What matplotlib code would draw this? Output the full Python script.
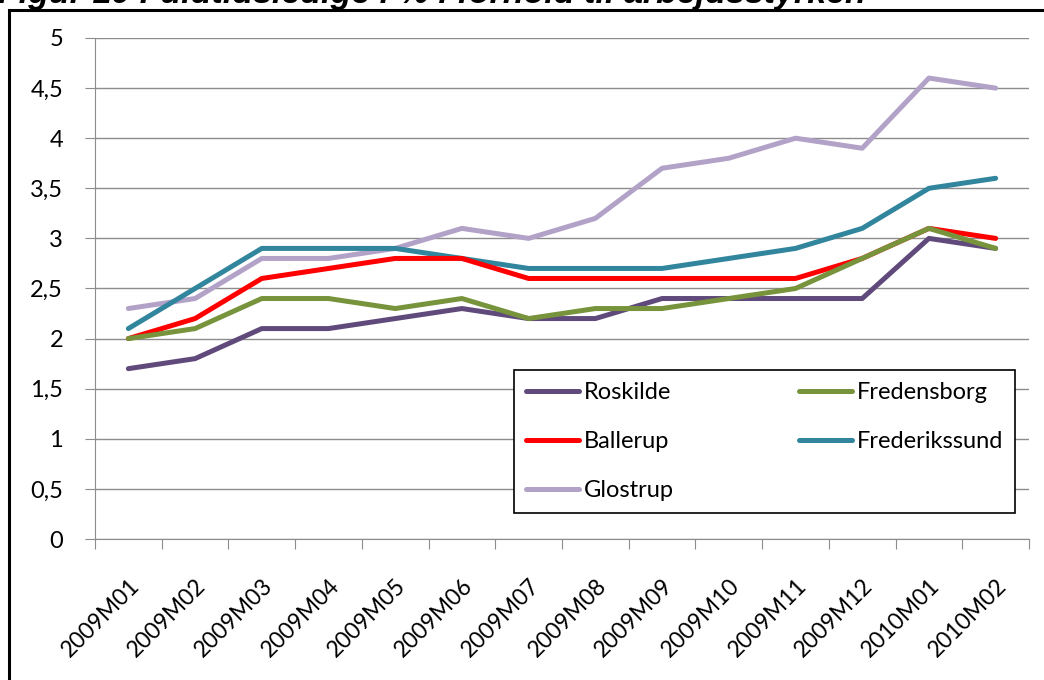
import matplotlib
matplotlib.use("Agg")
import matplotlib.pyplot as plt
from matplotlib.patches import Rectangle

# months on the x axis
months = ["2009M01", "2009M02", "2009M03", "2009M04", "2009M05", "2009M06", "2009M07",
          "2009M08", "2009M09", "2009M10", "2009M11", "2009M12", "2010M01", "2010M02"]

# unemployment share (%) per municipality
roskilde = [1.7, 1.8, 2.1, 2.1, 2.2, 2.3, 2.2, 2.2, 2.4, 2.4, 2.4, 2.4, 3.0, 2.9]
fredensborg = [2.0, 2.1, 2.4, 2.4, 2.3, 2.4, 2.2, 2.3, 2.3, 2.4, 2.5, 2.8, 3.1, 2.9]
ballerup = [2.0, 2.2, 2.6, 2.7, 2.8, 2.8, 2.6, 2.6, 2.6, 2.6, 2.6, 2.8, 3.1, 3.0]
frederikssund = [2.1, 2.5, 2.9, 2.9, 2.9, 2.8, 2.7, 2.7, 2.7, 2.8, 2.9, 3.1, 3.5, 3.6]
glostrup = [2.3, 2.4, 2.8, 2.8, 2.9, 3.1, 3.0, 3.2, 3.7, 3.8, 4.0, 3.9, 4.6, 4.5]

yticks = [0, 0.5, 1, 1.5, 2, 2.5, 3, 3.5, 4, 4.5, 5]
ytick_labels = ["0", "0,5", "1", "1,5", "2", "2,5", "3", "3,5", "4", "4,5", "5"]

W, H = 1044, 680
fig = plt.figure(figsize=(W / 100, H / 100), dpi=100)
ax = fig.add_axes([95 / W, (H - 539) / H, (1029 - 95) / W, (539 - 38) / H])

font = "Lato"
x = range(len(months))
lw = 3.6
l_ros, = ax.plot(x, roskilde, color="#604A7B", lw=lw, label="Roskilde", solid_capstyle="round")
l_fre, = ax.plot(x, fredensborg, color="#77933C", lw=lw, label="Fredensborg", solid_capstyle="round")
l_bal, = ax.plot(x, ballerup, color="#FF0000", lw=lw, label="Ballerup", solid_capstyle="round")
l_fsd, = ax.plot(x, frederikssund, color="#31859C", lw=lw, label="Frederikssund", solid_capstyle="round")
l_glo, = ax.plot(x, glostrup, color="#B3A2C7", lw=lw, label="Glostrup", solid_capstyle="round")
# draw order roughly like the source
l_glo.set_zorder(2)
l_fsd.set_zorder(3)
l_bal.set_zorder(4)
l_ros.set_zorder(4.5)
l_fre.set_zorder(5)

ax.set_xlim(-0.5, len(months) - 0.5)
ax.set_ylim(0, 5)
ax.set_yticks(yticks)
ax.set_yticklabels(ytick_labels, fontfamily=font, fontsize=17)
ax.yaxis.grid(True, color="#8c8c8c", lw=1.0)
ax.set_axisbelow(True)

# category ticks sit between months, labels at the months
ax.set_xticks([i - 0.5 for i in range(len(months) + 1)])
ax.set_xticklabels([])
ax.set_xticks(list(x), minor=True)
ax.set_xticklabels(months, minor=True, rotation=45, ha="right", rotation_mode="anchor",
                   fontfamily=font, fontsize=16.5)
ax.tick_params(axis="x", which="minor", length=0, pad=26)
ax.tick_params(axis="x", which="major", length=7, color="#8c8c8c")
ax.tick_params(axis="y", length=7, color="#8c8c8c", pad=16)

for s in ["top", "right"]:
    ax.spines[s].set_visible(False)
ax.spines["left"].set_color("#8c8c8c")
ax.spines["bottom"].set_color("#8c8c8c")

leg = fig.legend([l_ros, l_bal, l_glo, l_fre, l_fsd],
                 ["Roskilde", "Ballerup", "Glostrup", "Fredensborg", "Frederikssund"],
                 ncol=2, loc="upper left", mode="expand",
                 bbox_to_anchor=(514 / W, (H - 522) / H, (1015 - 514) / W, (522 - 370) / H),
                 borderaxespad=0, fancybox=False, framealpha=1, edgecolor="black",
                 prop={"family": font, "size": 17}, handlelength=2.25, handletextpad=0.2,
                 labelspacing=1.2, borderpad=0.5)
leg.get_frame().set_linewidth(1.2)

# outer frame of the figure box
fig.add_artist(Rectangle((9 / W, -0.1), 1.2, 1 - 10 / H + 0.1, transform=fig.transFigure,
                         fill=False, ec="black", lw=2.2))

# title, cut off at the top edge in the source
fig.text(-2 / W, 1 - 3 / H, "Figur 10 Fuldtidsledige i % i forhold til arbejdsstyrken",
         fontfamily="Liberation Sans", fontweight="bold", fontstyle="italic",
         fontsize=24.5, va="baseline", ha="left")

fig.savefig("out.png", dpi=100)
